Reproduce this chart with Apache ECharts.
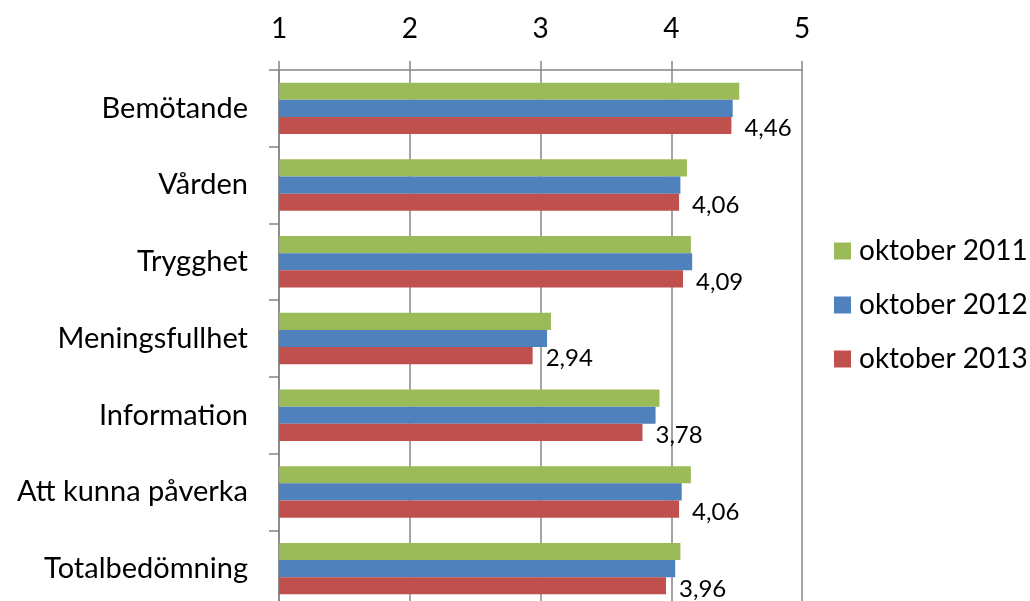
<!DOCTYPE html>
<html><head><meta charset="utf-8">
<script src="https://cdn.jsdelivr.net/npm/echarts@6/dist/echarts.min.js"></script>
<style>html,body{margin:0;padding:0;background:#fff}#c{width:1030px;height:601px}</style>
</head><body><div id="c"></div>
<script>
const categories = ['Bemötande','Vården','Trygghet','Meningsfullhet','Information','Att kunna påverka','Totalbedömning'];
const seriesNames = ['oktober 2011','oktober 2012','oktober 2013'];
const values2011 = [4.52,4.12,4.15,3.08,3.91,4.15,4.07];
const values2012 = [4.47,4.07,4.16,3.05,3.88,4.08,4.03];
const values2013 = [4.46,4.06,4.09,2.94,3.78,4.06,3.96];
const xTicks = [1,2,3,4,5];

const FONT = 'Lato';
const chart = echarts.init(document.getElementById('c'), null, {renderer:'canvas'});
const gridColor = '#868686';
chart.setOption({
  animation:false,
  textStyle:{fontFamily:FONT},
  grid:{left:279, top:70, width:523, height:537, containLabel:false, outerBoundsMode:'none'},
  legend:{
    orient:'vertical', left:829, top:232, itemWidth:17, itemHeight:17, itemGap:26,
    icon:'rect',
    textStyle:{fontFamily:FONT, fontSize:28, color:'#000', lineHeight:25, padding:[0,0,0,3]},
    data:seriesNames
  },
  xAxis:{
    type:'value', position:'top', min:xTicks[0], max:xTicks[xTicks.length-1], interval:1,
    axisLine:{show:true, lineStyle:{color:gridColor, width:1.5}},
    axisTick:{show:true, length:9, lineStyle:{color:gridColor, width:1.5}},
    splitLine:{show:true, lineStyle:{color:gridColor, width:1.5}},
    axisLabel:{fontFamily:FONT, fontSize:28, color:'#000', margin:27}
  },
  yAxis:{
    type:'category', data:categories, inverse:true,
    axisLine:{show:true, lineStyle:{color:gridColor, width:1.5}},
    axisTick:{show:true, length:10, lineStyle:{color:gridColor, width:1.5}},
    axisLabel:{fontFamily:FONT, fontSize:29, color:'#000', margin:31}
  },
  series:[
    {name:seriesNames[0], type:'bar', data:values2011, barGap:'0%', barCategoryGap:'33%', itemStyle:{color:'#9BBB59'}},
    {name:seriesNames[1], type:'bar', data:values2012, barGap:'0%', barCategoryGap:'33%', itemStyle:{color:'#4F81BD'}},
    {name:seriesNames[2], type:'bar', data:values2013, barGap:'0%', barCategoryGap:'33%', itemStyle:{color:'#C0504D'},
      label:{show:true, position:'right', distance:13, offset:[0,3], fontFamily:FONT, fontSize:24, color:'#000',
        formatter:p=>p.value.toFixed(2).replace('.',',')}}
  ]
});
</script></body></html>
